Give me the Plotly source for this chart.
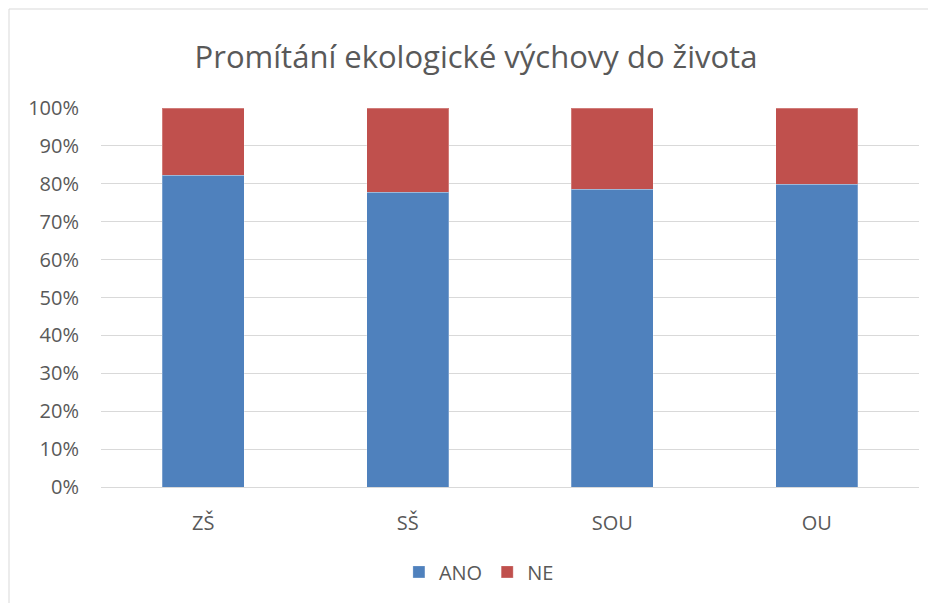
import plotly.graph_objects as go

categories = ["ZŠ", "SŠ", "SOU", "OU"]
ano = [0.822, 0.778, 0.785, 0.799]
ne = [1 - v for v in ano]

font = "Open Sans"
grey = "#595959"

fig = go.Figure()
fig.add_trace(go.Bar(name="ANO", x=categories, y=ano, marker_color="#4F81BD",
                     marker_line=dict(color="rgba(255,255,255,0.25)", width=1)))
fig.add_trace(go.Bar(name="NE", x=categories, y=ne, marker_color="#C0504D",
                     marker_line=dict(color="rgba(255,255,255,0.25)", width=1)))

# page body adds an 8px offset, margins are set for that
fig.update_layout(
    barmode="stack",
    bargap=0.6,
    width=936, height=603,
    margin=dict(l=93, r=25, t=100, b=124),
    paper_bgcolor="white", plot_bgcolor="white",
    font=dict(family=font, color=grey, size=20),
    title=dict(text="Promítání ekologické výchovy do života", x=0.5, xanchor="center",
               y=1 - 49 / 603, yref="container", yanchor="middle",
               font=dict(family=font, size=31, color=grey)),
    legend=dict(orientation="h", x=0.462, xanchor="center", y=-0.224, yanchor="middle",
                font=dict(size=20, color=grey), traceorder="normal"),
    showlegend=True,
)
fig.update_yaxes(range=[0, 1], tickformat=".0%", dtick=0.1, gridcolor="#D9D9D9",
                 gridwidth=1, zeroline=False, showline=False,
                 ticks="outside", ticklen=17, tickcolor="rgba(0,0,0,0)")
fig.update_xaxes(showline=True, linecolor="#D9D9D9", ticks="outside", ticklen=18,
                 tickcolor="rgba(0,0,0,0)")

# chart frame
fig.add_shape(type="rect", xref="paper", yref="paper",
              x0=(1 - 93) / 818, x1=(945 - 93) / 818,
              y0=(479 - 615) / 379, y1=(479 - 1) / 379,
              line=dict(color="#D9D9D9", width=1), layer="below")

fig.write_html("out.html")
